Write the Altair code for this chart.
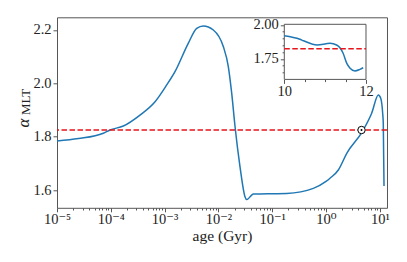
import altair as alt
import pandas as pd

# ---- data ----
main_age = [1.0e-5, 2.5e-5, 7.26e-5, 9.66e-5, 1.71e-4, 3.49e-4, 6.64e-4, 1.094e-3,
            1.56e-3, 2.75e-3, 3.95e-3, 5.24e-3, 8.04e-3, 1.233e-2, 1.528e-2,
            1.766e-2, 2.037e-2, 2.518e-2, 3.119e-2, 3.357e-2, 4.16e-2, 4.457e-2,
            5.93e-2, 0.1, 0.186, 0.581, 1.0, 1.186, 1.694, 2.43, 4.73, 7.06, 9.38,
            10.4, 11.3, 11.6, 11.97]
main_alpha = [1.784, 1.793, 1.813, 1.825, 1.840, 1.881, 1.931, 1.994,
              2.044, 2.150, 2.206, 2.215, 2.200, 2.138, 2.063,
              1.963, 1.838, 1.688, 1.575, 1.564, 1.581, 1.585,
              1.585, 1.586, 1.587, 1.606, 1.632, 1.644, 1.675, 1.7375, 1.819, 1.888, 1.956,
              1.944, 1.888, 1.850, 1.615]

inset_age = [10.0, 10.38, 10.47, 10.8, 11.12, 11.28, 11.44, 11.53, 11.61, 11.73, 11.85, 11.93]
inset_alpha = [1.921, 1.895, 1.884, 1.853, 1.865, 1.853, 1.792, 1.718, 1.682, 1.662, 1.674, 1.686]

sun_age = [4.57]
sun_alpha = [1.825]
alpha_sun = 1.825

x_labels = ["10⁻⁵", "10⁻⁴", "10⁻³", "10⁻²", "10⁻¹", "10⁰", "10¹"]
y_ticks = [1.6, 1.8, 2.0, 2.2]
inset_x_major = [10, 12]
inset_x_minor = [10.5, 11, 11.5]
inset_y_major = [1.75, 2.00]
inset_y_minor = [1.65, 1.70, 1.80, 1.85, 1.90, 1.95]

FONT = "'Liberation Serif', 'DejaVu Serif', serif"
FRAME = "#555555"
TXT = "#222222"

x_minor_vals = [m * 10.0 ** e for e in range(-5, 2) for m in range(1, 10) if m * 10.0 ** e <= 13.6]

main_df = pd.DataFrame({"age": main_age, "alpha": main_alpha})
inset_df = pd.DataFrame({"age": inset_age, "alpha": inset_alpha})
sun_df = pd.DataFrame({"age": sun_age, "alpha": sun_alpha})
one = pd.DataFrame({"k": [0]})

dec_test = "abs(log(datum.value)/LN10 - round(log(datum.value)/LN10)) < 0.001"
label_arr = "[" + ",".join("'" + s + "'" for s in x_labels) + "]"

xs_main = alt.Scale(type="log", domain=[1e-5, 13.6], nice=False)
ys_main = alt.Scale(domain=[1.5333, 2.2476], nice=False, zero=False)

x_axis = alt.Axis(orient="bottom", values=x_minor_vals, title="age (Gyr)",
                  labelExpr=f"({dec_test}) ? {label_arr}[round(log(datum.value)/LN10)+5] : ''",
                  tickSize={"condition": {"test": dec_test, "value": 4}, "value": 2.2},
                  domain=False, labelFontSize=14.5, labelPadding=1, titlePadding=2,
                  titleFontSize=15.5, labelFlush=False, labelOverlap=False)
y_axis = alt.Axis(orient="left", values=y_ticks, format=".1f", title=None, domain=False,
                  tickSize=4, labelFontSize=14.5, labelPadding=2, labelOverlap=False)

main_line = alt.Chart(main_df).mark_line(color="#1f77b4", strokeWidth=1.5, interpolate="monotone").encode(
    x=alt.X("age:Q", scale=xs_main, axis=x_axis),
    y=alt.Y("alpha:Q", scale=ys_main, axis=y_axis),
)
red_rule = alt.Chart(pd.DataFrame({"a": [alpha_sun]})).mark_rule(
    color="#e8141b", strokeDash=[5.5, 2.5], strokeWidth=1.4).encode(y=alt.Y("a:Q"))
sun_ring = alt.Chart(sun_df).mark_point(shape="circle", filled=True, fill="white", stroke="black",
                                        strokeWidth=1, size=55, opacity=1).encode(x="age:Q", y="alpha:Q")
sun_dot = alt.Chart(sun_df).mark_point(shape="circle", filled=True, color="black", size=4,
                                       opacity=1).encode(x="age:Q", y="alpha:Q")
ylab_a = alt.Chart(one).mark_text(text="α", angle=270, font=FONT, fontStyle="italic", fontSize=17,
                                  color=TXT, align="center", baseline="alphabetic").encode(
    x=alt.value(-28.5), y=alt.value(105.7))
ylab_m = alt.Chart(one).mark_text(text="MLT", angle=270, font=FONT, fontSize=13,
                                  color=TXT, align="center", baseline="alphabetic").encode(
    x=alt.value(-27.5), y=alt.value(84.7))

main = alt.layer(main_line, red_rule, sun_ring, sun_dot, ylab_a, ylab_m)

# ---- inset ----
IN_X_RANGE = [227.3, 309]
IN_Y_RANGE = [62.1, 7.0]
IN_X_DOM = [10, 12]
IN_Y_DOM = [1.6, 2.005]

xs_in = alt.Scale(domain=IN_X_DOM, range=IN_X_RANGE, nice=False, zero=False)
ys_in = alt.Scale(domain=IN_Y_DOM, range=IN_Y_RANGE, nice=False, zero=False)
in_x_axis = alt.Axis(orient="bottom", offset=-128.4, values=inset_x_major, title=None, domain=False,
                     format="d", tickSize=4, labelFontSize=14.5, labelPadding=1,
                     labelFlush=False, labelOverlap=False)
in_y_axis = alt.Axis(orient="left", offset=-227.3, values=inset_y_major, title=None, domain=False,
                     format=".2f", tickSize=4, labelFontSize=14.5, labelPadding=2,
                     labelFlush=False, labelOverlap=False)

box_df = pd.DataFrame({"x1": [10], "x2": [12], "y1": [1.6], "y2": [2.005]})
in_box = alt.Chart(box_df).mark_rect(fill="white", stroke=FRAME, strokeWidth=1).encode(
    x=alt.X("x1:Q", scale=xs_in, axis=in_x_axis), x2="x2:Q",
    y=alt.Y("y1:Q", scale=ys_in, axis=in_y_axis), y2="y2:Q")
in_line = alt.Chart(inset_df).mark_line(color="#1f77b4", strokeWidth=1.5, interpolate="monotone").encode(
    x="age:Q", y="alpha:Q")
in_rule_df = pd.DataFrame({"x1": [10], "x2": [12], "a": [alpha_sun]})
in_rule = alt.Chart(in_rule_df).mark_rule(color="#e8141b", strokeDash=[5.5, 2.5], strokeWidth=1.4).encode(
    x="x1:Q", x2="x2:Q", y="a:Q")

inset = alt.layer(in_box, in_line, in_rule)

# minor ticks of the inset: a second, invisible copy of the inset scales
minor = alt.Chart(box_df).mark_rect(opacity=0).encode(
    x=alt.X("x1:Q", scale=alt.Scale(domain=IN_X_DOM, range=IN_X_RANGE, nice=False, zero=False),
            axis=alt.Axis(orient="bottom", offset=-128.4, values=inset_x_minor, labels=False,
                          title=None, domain=False, tickSize=2.2)),
    x2="x2:Q",
    y=alt.Y("y1:Q", scale=alt.Scale(domain=IN_Y_DOM, range=IN_Y_RANGE, nice=False, zero=False),
            axis=alt.Axis(orient="left", offset=-227.3, values=inset_y_minor, labels=False,
                          title=None, domain=False, tickSize=2.2)),
    y2="y2:Q")

chart = alt.layer(main, inset, minor).resolve_scale(x="independent", y="independent").properties(
    width=330, height=190.5,
    autosize=alt.AutoSizeParams(type="none"),
    padding={"left": 49, "top": 9.3, "right": 12, "bottom": 46},
    background="white",
).configure_view(stroke=FRAME, strokeWidth=1).configure_axis(
    grid=False, labelFont=FONT, titleFont=FONT, labelColor=TXT, titleColor=TXT,
    tickColor=FRAME, tickWidth=1, titleFontWeight="normal",
).configure_text(font=FONT)

chart.save("out.html", embed_options={"renderer": "svg", "actions": False})
